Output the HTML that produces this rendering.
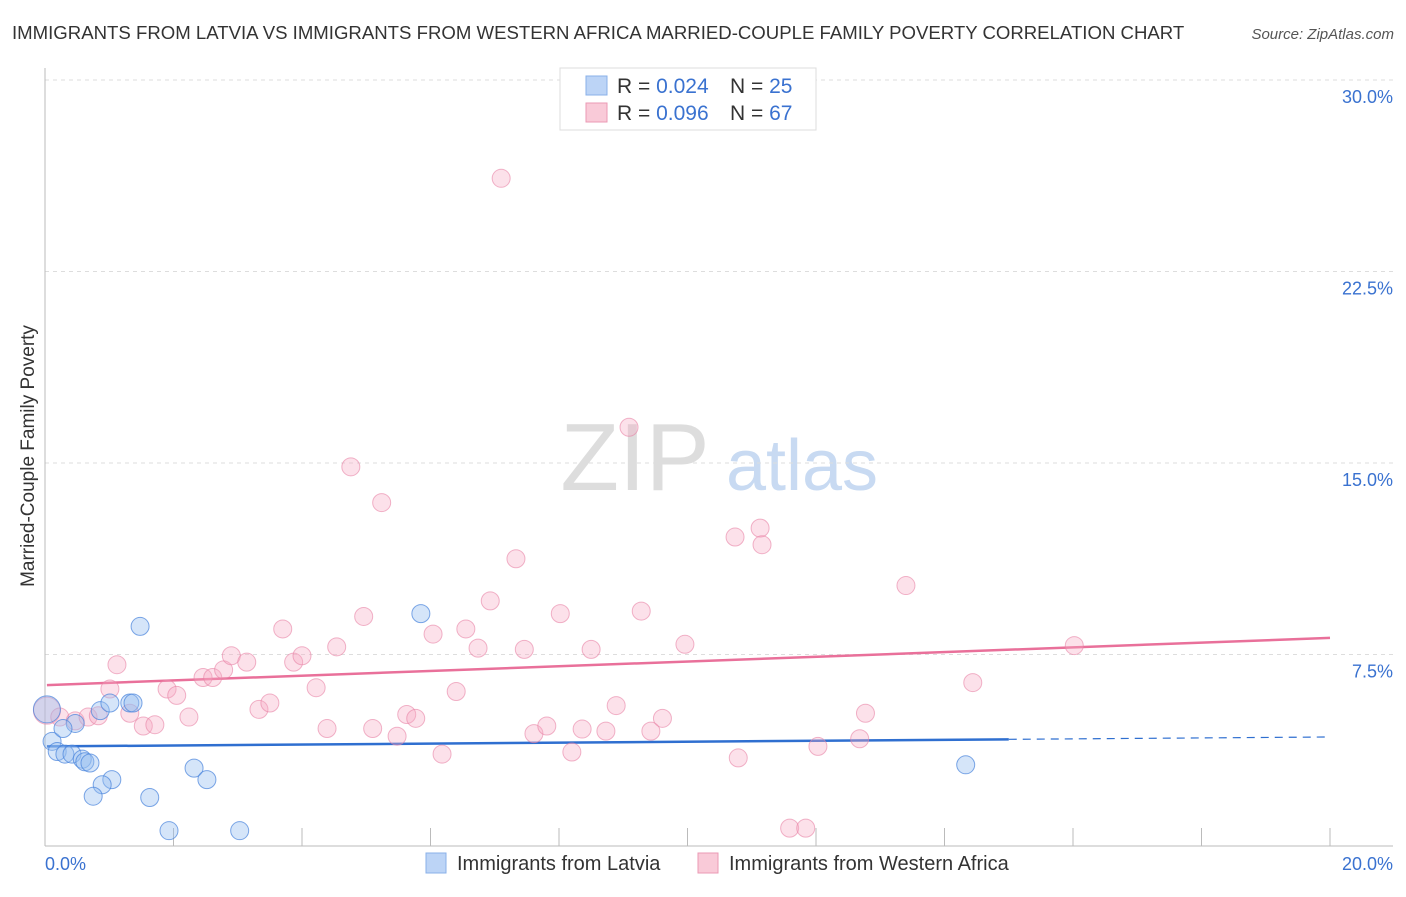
<!DOCTYPE html>
<html><head><meta charset="utf-8"><style>
body{margin:0;background:#fff;font-family:"Liberation Sans",sans-serif;}
svg text{font-family:"Liberation Sans",sans-serif;}
</style></head><body>
<svg id="chart" width="1406" height="892" xmlns="http://www.w3.org/2000/svg">
<text x="12" y="39" font-size="18.6" fill="#333">IMMIGRANTS FROM LATVIA VS IMMIGRANTS FROM WESTERN AFRICA MARRIED-COUPLE FAMILY POVERTY CORRELATION CHART</text>
<text x="1394" y="39" font-size="15" fill="#555" text-anchor="end" font-style="italic">Source: ZipAtlas.com</text>
<text transform="translate(34,456) rotate(-90)" font-size="19" fill="#333" text-anchor="middle">Married-Couple Family Poverty</text>
<g><text x="635" y="490" font-size="96" fill="#ddd" font-family="Liberation Serif" text-anchor="middle">ZIP</text><text x="802" y="490" font-size="72" fill="#c8daf2" text-anchor="middle">atlas</text></g>
<g id="grid"></g><g id="axes"></g><g id="lines"></g><g id="pts"></g>
<g>
<rect x="560" y="68" width="256" height="62" fill="#fff" stroke="#ddd"/>
<rect x="586" y="76" width="21" height="19" fill="#bcd4f6" stroke="#8ab0e8"/>
<text x="617" y="93" font-size="21" fill="#333">R = <tspan fill="#3a72d0">0.024</tspan><tspan x="730">N = </tspan><tspan fill="#3a72d0">25</tspan></text>
<rect x="586" y="103" width="21" height="19" fill="#f9cad8" stroke="#eb9ab4"/>
<text x="617" y="120" font-size="21" fill="#333">R = <tspan fill="#3a72d0">0.096</tspan><tspan x="730">N = </tspan><tspan fill="#3a72d0">67</tspan></text>
</g>
<g>
<rect x="426" y="853" width="20" height="20" fill="#bcd4f6" stroke="#8ab0e8"/>
<text x="457" y="870" font-size="20" fill="#333">Immigrants from Latvia</text>
<rect x="698" y="853" width="20" height="20" fill="#f9cad8" stroke="#eb9ab4"/>
<text x="729" y="870" font-size="20" fill="#333">Immigrants from Western Africa</text>
</g>
</svg>
<script>
const yTicks=[7.5,15,22.5,30];
const yTickLabels=["7.5%","15.0%","22.5%","30.0%"];
const latviaX=[0.03,0.11,0.19,0.31,0.42,0.58,0.62,0.70,0.86,1.01,1.32,1.37,1.48,0.47,0.28,1.04,0.89,0.75,1.63,2.32,2.52,1.93,3.03,5.85,14.33];
const latviaY=[5.35,4.1,3.7,3.6,3.6,3.4,3.3,3.25,5.3,5.6,5.6,5.6,8.6,4.8,4.6,2.6,2.4,1.95,1.9,3.05,2.6,0.6,0.6,9.1,3.18];
const wafX=[0.03,0.23,0.47,0.67,0.83,1.12,1.01,1.32,1.53,1.71,1.90,2.05,2.24,2.46,2.61,2.78,2.90,3.14,3.33,3.50,3.70,3.87,4.00,4.22,4.39,4.54,4.76,4.96,5.10,5.24,5.48,5.63,5.77,6.04,6.18,6.40,6.55,6.74,6.93,7.10,7.33,7.46,7.61,7.81,8.02,8.20,8.36,8.50,8.73,8.89,9.09,9.28,9.43,9.61,9.96,10.74,10.79,11.13,11.16,11.59,11.84,12.03,12.68,12.77,13.40,14.44,16.02];
const wafY=[5.3,5.05,4.9,5.05,5.1,7.1,6.15,5.2,4.7,4.75,6.15,5.9,5.05,6.6,6.6,6.9,7.45,7.2,5.35,5.6,8.5,7.2,7.45,6.2,4.6,7.8,14.85,8.99,4.6,13.45,4.3,5.15,5.0,8.3,3.6,6.05,8.5,7.75,9.6,26.15,11.25,7.7,4.4,4.7,9.1,3.68,4.58,7.7,4.5,5.5,16.4,9.2,4.5,5.0,7.9,12.1,3.45,12.45,11.8,0.7,0.7,3.9,4.2,5.2,10.2,6.4,7.85];
const wafTrend=[6.3,8.15];
const latTrend=[3.9,4.27];
const X=v=>45+v/20*1285, Y=v=>846-v/30*766;
const NS="http://www.w3.org/2000/svg";
function mk(parent,tag,attrs){const e=document.createElementNS(NS,tag);for(const k in attrs)e.setAttribute(k,attrs[k]);document.getElementById(parent).appendChild(e);return e;}
yTicks.forEach((t,i)=>{
 const l=mk('grid','line',{x1:45,x2:1393,y1:Y(t),y2:Y(t),stroke:'#ddd','stroke-dasharray':'4,4'});
 
 
 const tx=mk('grid','text',{x:1393,y:Y(t)+23,'font-size':18,fill:'#3a72d0','text-anchor':'end'});
 tx.textContent=yTickLabels[i];
 
 
});
const ax=mk('axes','line',{x1:45,x2:45,y1:68,y2:846,stroke:'#bbb'});


const bx=mk('axes','line',{x1:45,x2:1393,y1:846,y2:846,stroke:'#bbb'});


for(let i=0;i<=10;i++){const t=mk('axes','line',{x1:X(i*2),x2:X(i*2),y1:828,y2:846,stroke:'#bbb'});
 
 }
const xl0=mk('axes','text',{x:45,y:870,'font-size':18,fill:'#3a72d0'});xl0.textContent='0.0%';


const xl1=mk('axes','text',{x:1393,y:870,'font-size':18,fill:'#3a72d0','text-anchor':'end'});xl1.textContent='20.0%';


wafX.forEach((x,i)=>{const c=mk('pts','circle',{cx:X(x),cy:Y(wafY[i]),r:i==0?13.5:9,fill:'rgba(246,170,195,0.35)',stroke:'rgba(232,130,165,0.6)','stroke-width':1});
 
 });
latviaX.forEach((x,i)=>{const c=mk('pts','circle',{cx:X(x),cy:Y(latviaY[i]),r:i==0?13.5:9,fill:'rgba(150,190,240,0.4)',stroke:'rgba(70,130,220,0.7)','stroke-width':1});
 
 });
const lw=v=>wafTrend[0]+(wafTrend[1]-wafTrend[0])*v/20, ll=v=>latTrend[0]+(latTrend[1]-latTrend[0])*v/20;
const p=mk('lines','line',{x1:X(0.03),y1:Y(lw(0.03)),x2:X(20),y2:Y(lw(20)),stroke:'#e9709a','stroke-width':2.5});


const b=mk('lines','line',{x1:X(0.03),y1:Y(ll(0.03)),x2:X(15),y2:Y(ll(15)),stroke:'#2f6fd0','stroke-width':2.5});


const bd=mk('lines','line',{x1:X(15),y1:Y(ll(15)),x2:X(20),y2:Y(ll(20)),stroke:'#2f6fd0','stroke-width':1.2,'stroke-dasharray':'8,6'});


</script>
</body></html>
